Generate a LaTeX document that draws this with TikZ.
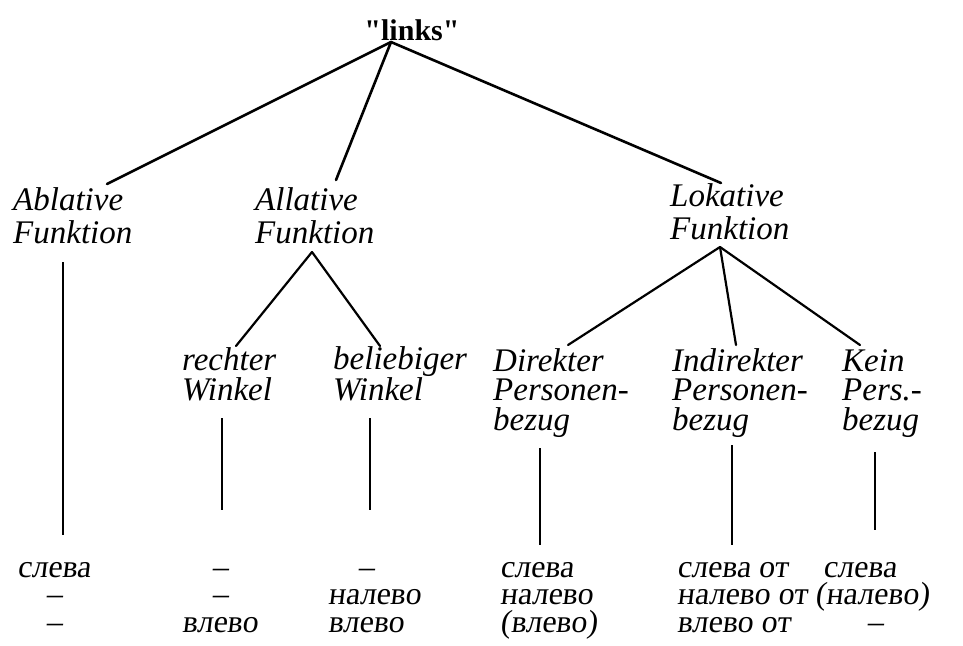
\documentclass[tikz,border=0pt]{standalone}
\usepackage{fontspec}
\setmainfont{Liberation Serif}
\newfontfamily\rootfont{Liberation Serif}
\newfontfamily\rusfont[FakeSlant=0.12]{Liberation Serif}
\tikzset{
    root/.style = {inner sep=0pt, anchor=base, font=\rootfont\fontsize{30}{30}\selectfont\bfseries},
    func/.style = {inner sep=0pt, anchor=base west, align=left,
                   font=\fontsize{33}{33}\selectfont\itshape},
    kind/.style = {inner sep=0pt, anchor=base west, align=left,
                   font=\fontsize{33}{29.5}\selectfont\itshape},
    word/.style = {inner sep=0pt, anchor=base west, align=left,
                   font=\rusfont\fontsize{32}{27.5}\selectfont},
    branch/.style = {line width=2.6pt, line cap=round},
    twig/.style = {line width=2.2pt, line cap=round},
    stem/.style = {line width=1.6pt},
}
\begin{document}
\begin{tikzpicture}[x=1pt, y=-1pt]
\useasboundingbox (0,0) rectangle (963,645);

% nodes sit on the baseline of their last line
\node[root] (links) at (412,40) {"links"};
\node[func] (abl) at (13,243) {Ablative\\Funktion};
\node[func] (all) at (255,243) {Allative\\Funktion};
\node[func] (lok) at (670,239) {Lokative\\Funktion};
\node[kind] (recht) at (182,400) {rechter\\Winkel};
\node[kind] (belieb) at (333,400) {beliebiger\\Winkel};
\node[kind] (direkt) at (493,430) {Direkter\\Personen-\\bezug};
\node[kind] (indirekt) at (672,430) {Indirekter\\Personen-\\bezug};
\node[kind] (kein) at (842,430) {Kein\\Pers.-\\bezug};

% russian equivalents
\node[word, anchor=base, align=center] (w1) at (54,632) {слева\\–\\–};
\node[word, anchor=base, align=center] (w2) at (220,632) {–\\–\\влево};
\node[word] (w3) at (328,632) {\hspace*{30pt}–\\налево\\влево};
\node[word] (w4) at (500,632) {слева\\налево\\(влево)};
\node[word] (w5) at (677,632) {слева от\\налево от\\влево от};
\node[word] (w6) at (815,632) {\hspace*{8pt}слева\\(налево)\\\hspace*{52pt}–};

% tree
\draw[branch] ([xshift=-21pt,yshift=-2pt]links.base) -- ([xshift=94pt,yshift=59pt]abl.base west);
\draw[branch] ([xshift=-21pt,yshift=-2pt]links.base) -- ([xshift=81pt,yshift=63pt]all.base west);
\draw[branch] ([xshift=-21pt,yshift=-2pt]links.base) -- ([xshift=51pt,yshift=56pt]lok.base west);
\draw[twig] ([xshift=57pt,yshift=-9pt]all.base west) -- ([xshift=54pt,yshift=54pt]recht.base west);
\draw[twig] ([xshift=57pt,yshift=-9pt]all.base west) -- ([xshift=47pt,yshift=54pt]belieb.base west);
\draw[twig] ([xshift=50pt,yshift=-8pt]lok.base west) -- ([xshift=75pt,yshift=85pt]direkt.base west);
\draw[twig] ([xshift=50pt,yshift=-8pt]lok.base west) -- ([xshift=64pt,yshift=85pt]indirekt.base west);
\draw[twig] ([xshift=50pt,yshift=-8pt]lok.base west) -- ([xshift=18pt,yshift=85pt]kein.base west);

% stems
\draw[stem] ([xshift=50pt,yshift=-19pt]abl.base west) -- ([xshift=9pt,yshift=97pt]w1.base);
\draw[stem] ([xshift=40pt,yshift=-18pt]recht.base west) -- ([xshift=2pt,yshift=122pt]w2.base);
\draw[stem] ([xshift=37pt,yshift=-18pt]belieb.base west) -- ([xshift=42pt,yshift=122pt]w3.base west);
\draw[stem] ([xshift=47pt,yshift=-18pt]direkt.base west) -- ([xshift=40pt,yshift=87pt]w4.base west);
\draw[stem] ([xshift=60pt,yshift=-15pt]indirekt.base west) -- ([xshift=55pt,yshift=87pt]w5.base west);
\draw[stem] ([xshift=33pt,yshift=-22pt]kein.base west) -- ([xshift=60pt,yshift=102pt]w6.base west);
\end{tikzpicture}
\end{document}
